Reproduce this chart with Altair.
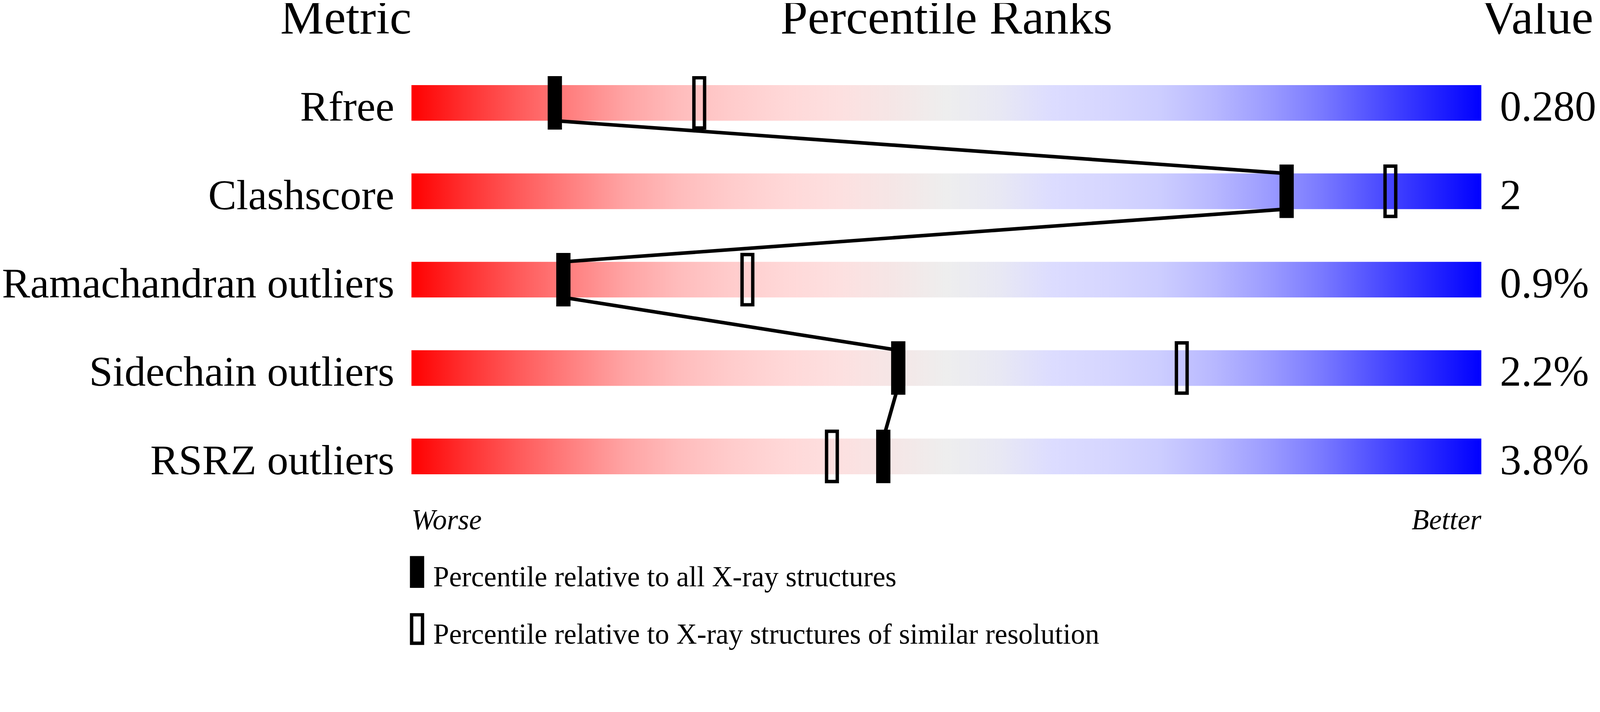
import altair as alt
import pandas as pd

# ---- data ----
metrics = ["Rfree", "Clashscore", "Ramachandran outliers", "Sidechain outliers", "RSRZ outliers"]
values = ["0.280", "2", "0.9%", "2.2%", "3.8%"]
pct_all = [13.4, 81.8, 14.2, 45.5, 44.1]      # percentile vs all X-ray structures
pct_res = [26.9, 91.5, 31.4, 72.0, 39.3]      # percentile vs similar resolution
titles = ["Metric", "Percentile Ranks", "Value"]
scale_ends = ["Worse", "Better"]
legend_labels = ["Percentile relative to all X-ray structures",
                 "Percentile relative to X-ray structures of similar resolution"]

stop_pos = [0.00, 0.05, 0.10, 0.15, 0.20, 0.25, 0.30, 0.35, 0.40, 0.45, 0.50,
            0.55, 0.60, 0.65, 0.70, 0.75, 0.80, 0.85, 0.90, 0.95, 1.00]
stop_col = ["#ff0000", "#ff3030", "#ff5a5a", "#ff8080", "#ffa4a4", "#ffbcbc",
            "#ffcccc", "#ffd8d8", "#fde0e0", "#f5e6e6", "#eeeeee", "#e8e8f4",
            "#dcdcff", "#d6d6ff", "#cccdff", "#b8b8ff", "#9c9cff", "#7a7aff",
            "#5050ff", "#2828ff", "#0000ff"]

rows = list(range(len(metrics)))
df = pd.DataFrame({"metric": metrics, "value": values, "row": rows,
                   "all": pct_all, "res": pct_res,
                   "lo": [0] * len(metrics), "hi": [100] * len(metrics)})
seg = pd.DataFrame({"x": pct_all[:-1], "x2": pct_all[1:],
                    "y": rows[:-1], "y2": rows[1:]})

FONT = "Liberation Serif"
W, H = 3000, 1250

xs = alt.Scale(domain=[0, 100], nice=False, zero=False)
ys = alt.Scale(domain=[-0.5, len(metrics) - 0.5], reverse=True, nice=False, zero=False)

grad = alt.Gradient(
    gradient="linear",
    stops=[alt.GradientStop(offset=o, color=c) for o, c in zip(stop_pos, stop_col)],
    x1=0, x2=1, y1=0, y2=0,
)

base = alt.Chart(df)

bars = base.mark_bar(orient="horizontal", size=100, color=grad).encode(
    x=alt.X("lo:Q", scale=xs, axis=None),
    x2="hi:Q",
    y=alt.Y("row:Q", scale=ys, axis=None),
)

links = alt.Chart(seg).mark_rule(color="black", strokeWidth=10, yOffset=50, y2Offset=-50).encode(
    x=alt.X("x:Q", scale=xs, axis=None),
    x2="x2:Q",
    y=alt.Y("y:Q", scale=ys, axis=None),
    y2="y2:Q",
)

mk_all = base.mark_tick(orient="vertical", thickness=40, size=150, color="black", opacity=1).encode(
    x=alt.X("all:Q", scale=xs, axis=None),
    y=alt.Y("row:Q", scale=ys, axis=None),
)

mk_res = base.mark_tick(orient="vertical", thickness=30, size=141, filled=False,
                        color="black", strokeWidth=9.5, opacity=1).encode(
    x=alt.X("res:Q", scale=xs, axis=None),
    y=alt.Y("row:Q", scale=ys, axis=None),
)

labels = base.mark_text(align="right", baseline="alphabetic", dx=-48, dy=50,
                        fontSize=119, font=FONT, color="black").encode(
    x=alt.X("lo:Q", scale=xs, axis=None),
    y=alt.Y("row:Q", scale=ys, axis=None),
    text="metric:N",
)

vals = base.mark_text(align="left", baseline="alphabetic", dx=52, dy=50,
                      fontSize=120, font=FONT, color="black").encode(
    x=alt.X("hi:Q", scale=xs, axis=None),
    y=alt.Y("row:Q", scale=ys, axis=None),
    text="value:N",
)


def txt(s, x, y, align, size, style="normal"):
    return alt.Chart(pd.DataFrame({"t": [s]})).mark_text(
        align=align, baseline="alphabetic", fontSize=size, font=FONT,
        fontStyle=style, color="black",
    ).encode(x=alt.value(x), y=alt.value(y), text="t:N")


t_metric = txt(titles[0], 0, -65, "right", 138)
t_pct = txt(titles[1], W / 2, -65, "center", 138)
t_val = txt(titles[2], W, -65, "left", 138)

t_worse = txt(scale_ends[0], 0, 1326, "left", 80, "italic")
t_better = txt(scale_ends[1], W, 1326, "right", 80, "italic")

one = pd.DataFrame({"k": [0]})
leg_black = alt.Chart(one).mark_rect(color="black").encode(
    x=alt.value(-4.3), x2=alt.value(35.7), y=alt.value(1400.7), y2=alt.value(1490),
)
leg_open = alt.Chart(one).mark_rect(filled=False, stroke="black", strokeWidth=9.5).encode(
    x=alt.value(0.45), x2=alt.value(30.95), y=alt.value(1565.45), y2=alt.value(1645.25),
)
leg_t1 = txt(legend_labels[0], 61, 1486, "left", 80)
leg_t2 = txt(legend_labels[1], 61, 1646, "left", 80)

chart = alt.layer(
    bars, links, mk_all, mk_res, labels, vals,
    t_metric, t_pct, t_val, t_worse, t_better,
    leg_black, leg_open, leg_t1, leg_t2,
).properties(
    width=W, height=H,
    autosize=alt.AutoSizeParams(type="none"),
    padding={"left": 1145, "top": 69, "right": 324, "bottom": 400},
    background="white",
).configure_view(stroke=None)

chart.save("out.html", embed_options={"renderer": "svg", "actions": False})
